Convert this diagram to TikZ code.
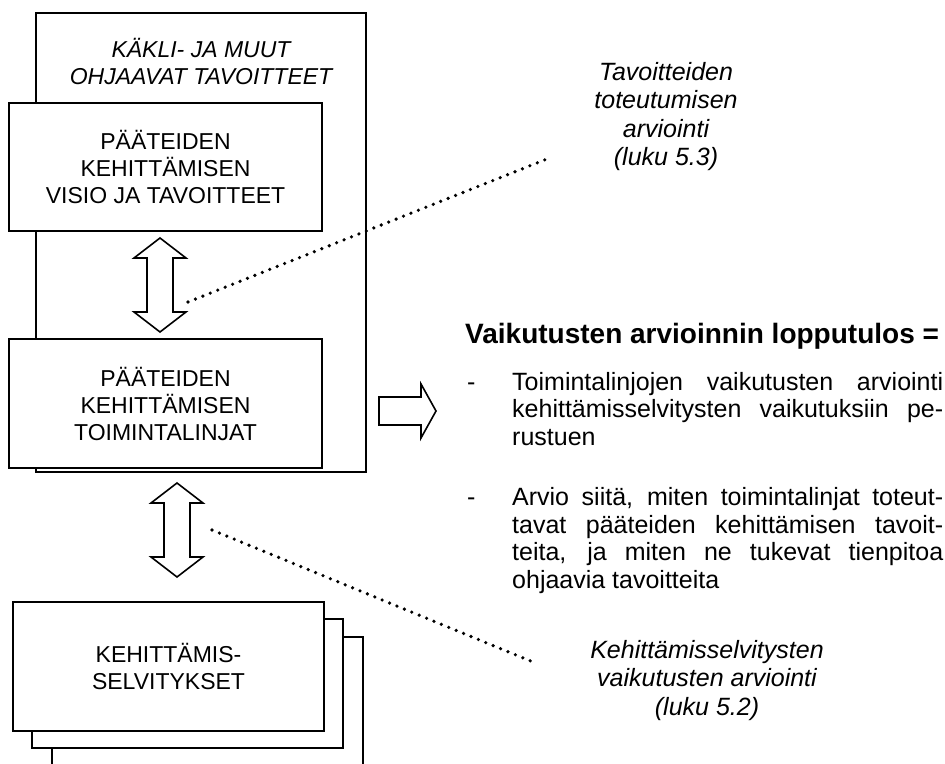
\documentclass[tikz,border=0pt]{standalone}
\usepackage{fontspec}
\setmainfont{Liberation Sans}
\usetikzlibrary{positioning}
\tikzset{
    frame/.style={draw, fill=white, line width=1.6pt, inner sep=0pt},
    boxtext/.style={align=center, font=\fontsize{23}{27}\selectfont},
    remark/.style={align=center, inner sep=0pt, font=\fontsize{25}{28.5}\selectfont\itshape},
    fatarrow/.style={draw, fill=white, line width=1.6pt},
    dots/.style={line width=3.6pt, line cap=round, dash pattern=on 0pt off 8pt}
}
\newcommand{\updown}[3]{% centre x, upper tip y, lower tip y
    \draw[fatarrow] (#1, #2) -- ++(26, 20) -- ++(-13, 0) -- (#1+13, #3-20) -- ++(13, 0) -- (#1, #3)
        -- ++(-26, -20) -- ++(13, 0) -- (#1-13, #2+20) -- ++(-13, 0) -- cycle;
}

\begin{document}
\begin{tikzpicture}[x=1pt, y=-1pt]
    \path[use as bounding box, fill=white] (0, 0) rectangle (945, 763);
    % left column
    \node[frame, minimum width=330pt, minimum height=459pt] (goals) at (201, 242.5) {};
    \node[boxtext, font=\fontsize{23}{27}\selectfont\itshape] (goalstext) at (201, 61) {KÄKLI- JA MUUT\\OHJAAVAT TAVOITTEET};
    \node[frame, boxtext, minimum width=313pt, minimum height=128pt] (vision) at (165.5, 167) {PÄÄTEIDEN\\KEHITTÄMISEN\\VISIO JA TAVOITTEET};
    \node[frame, boxtext, minimum width=313pt, minimum height=129pt] (policy) at (165.5, 403.5) {PÄÄTEIDEN\\KEHITTÄMISEN\\TOIMINTALINJAT};
    \updown{160}{238}{332}
    \updown{177}{483}{577}
    \begin{scope}
        \node[frame, minimum width=311pt, minimum height=129pt] (studyC) at (207.5, 701.5) {};
        \node[frame, minimum width=311pt, minimum height=129pt] (studyB) at (187.5, 683.5) {};
        \node[frame, boxtext, minimum width=311pt, minimum height=129pt] (studyA) at (168.5, 666.5) {KEHITTÄMIS-\\SELVITYKSET};
    \end{scope}
    % right column
    \draw[fatarrow] (379, 397) -- (421, 397) -- (421, 384) -- (436, 411) -- (421, 438) -- (421, 425) -- (379, 425) -- cycle;
    \node[anchor=base west, inner sep=0pt, font=\fontsize{28}{32}\selectfont\bfseries] (result) at (465, 343) {Vaikutusten arvioinnin lopputulos =};
    \node[anchor=north west, inner sep=0pt, text width=476pt, align=justify, font=\fontsize{25}{27.5}\selectfont] (items) at (467, 372) {%
        \parindent=0pt \hyphenpenalty=10000 \tolerance=10000
        \hangindent=45pt \hangafter=1
        \makebox[45pt][l]{-}Toimintalinjojen vaikutusten arviointi\linebreak
        kehittämisselvitysten vaikutuksiin pe-\linebreak
        rustuen\par
        \vspace{33pt}
        \hangindent=45pt \hangafter=1
        \makebox[45pt][l]{-}Arvio siitä, miten toimintalinjat toteut-\linebreak
        tavat pääteiden kehittämisen tavoit-\linebreak
        teita, ja miten ne tukevat tienpitoa\linebreak
        ohjaavia tavoitteita\par};
    \node[remark, anchor=north] (goalcheck) at (666, 62) {Tavoitteiden\\toteutumisen\\arviointi\\(luku 5.3)};
    \node[remark, anchor=north] (studycheck) at (707, 640) {Kehittämisselvitysten\\vaikutusten arviointi\\(luku 5.2)};
    % dotted leaders
    \coordinate (leadA) at (188, 302);
    \coordinate (leadAend) at (552, 157);
    \coordinate (leadB) at (212, 530);
    \coordinate (leadBend) at (533, 662);
    \draw[dots] (leadA) -- (leadAend);
    \draw[dots] (leadB) -- (leadBend);
\end{tikzpicture}
\end{document}
